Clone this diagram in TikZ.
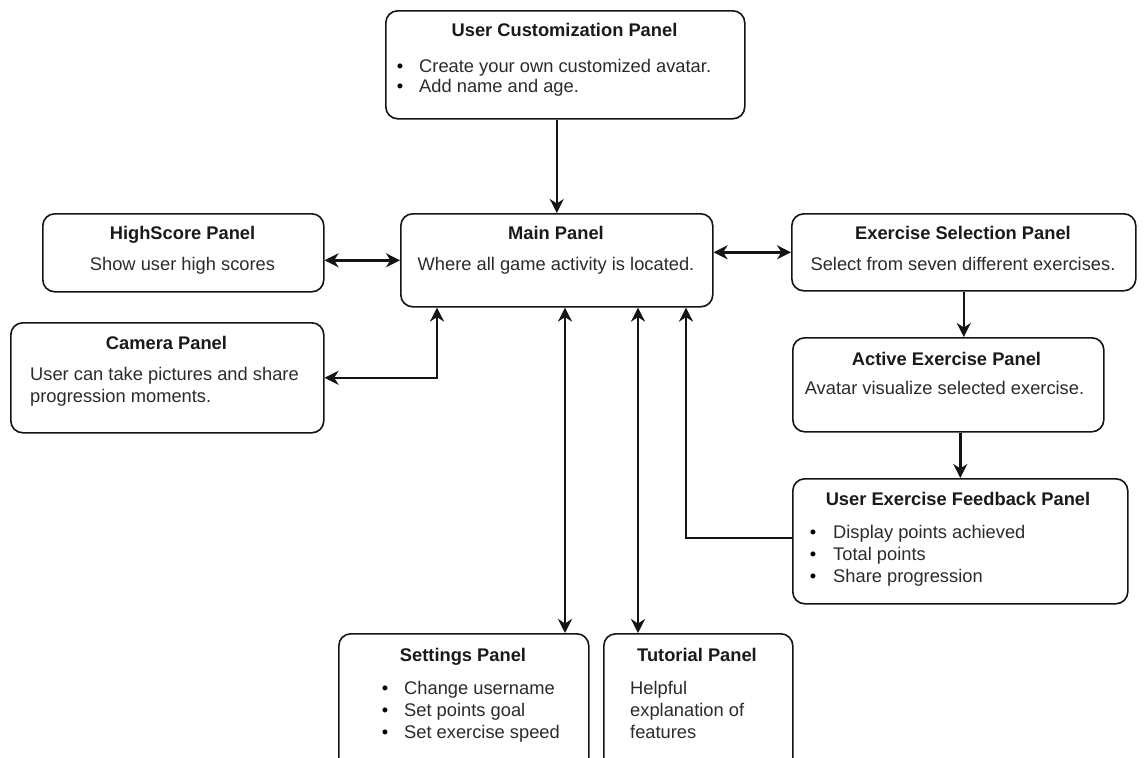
\documentclass[tikz,border=0pt]{standalone}
\usepackage{fontspec}
\setmainfont{Liberation Sans}
\usetikzlibrary{arrows.meta,calc}
\definecolor{edge}{HTML}{141414}
\definecolor{titlec}{HTML}{1A1A1A}
\definecolor{bodyc}{HTML}{2B2B2B}
\begin{document}
\begin{tikzpicture}[x=1pt,y=-1pt,
  panel/.style={draw=edge, line width=1.6pt, rounded corners=12pt, anchor=north west, inner sep=0pt, fill=white},
  head/.style={font=\bfseries\fontsize{18.3}{22}\selectfont, text=titlec, anchor=base, inner sep=0pt},
  body/.style={font=\fontsize{18.3}{22}\selectfont, text=bodyc, anchor=base west, inner sep=0pt},
  cbody/.style={body, anchor=base},
  dot/.style={font=\fontsize{18.3}{22}\selectfont, text=black, anchor=base, inner sep=0pt},
  tip/.tip={Stealth[length=14pt,width=14pt,inset=4.5pt]},
  link/.style={line width=2.5pt, draw=edge, -tip},
  both/.style={line width=2.5pt, draw=edge, tip-tip}
]
\useasboundingbox (0,0) rectangle (1144,758);
\clip (0,0) rectangle (1144,758);
\fill[white] (0,0) rectangle (1144,758);

% panels
\node[panel, minimum width=359pt, minimum height=108pt] (uc)   at (385,10)  {};
\node[panel, minimum width=312pt, minimum height=93pt]  (main) at (400,213) {};
\node[panel, minimum width=281pt, minimum height=78pt]  (hs)   at (42,213)  {};
\node[panel, minimum width=313pt, minimum height=110pt] (cam)  at (10,322)  {};
\node[panel, minimum width=344pt, minimum height=77pt]  (es)   at (791,213) {};
\node[panel, minimum width=311pt, minimum height=94pt]  (ae)   at (792,337) {};
\node[panel, minimum width=335pt, minimum height=125pt] (uef)  at (792,478) {};
\node[panel, minimum width=250pt, minimum height=157pt] (set)  at (338,633) {};
\node[panel, minimum width=189pt, minimum height=157pt] (tut)  at (603,633) {};

% user customization
\node[head] (ucT) at (564.5,36.5) {User Customization Panel};
\node[dot] (ucD1) at (400,72) {•};
\node[body] (ucL1) at (419,72) {Create your own customized avatar.};
\node[dot] (ucD2) at (400,92.5) {•};
\node[body] (ucL2) at (419,92.5) {Add name and age.};

% main
\node[head] (mainT) at (556,239.5) {Main Panel};
\node[cbody] (mainL) at (556,270) {Where all game activity is located.};

% high score
\node[head] (hsT) at (182.5,239.5) {HighScore Panel};
\node[cbody] (hsL) at (182.5,270) {Show user high scores};

% camera
\node[head] (camT) at (166.5,349.5) {Camera Panel};
\node[body] (camL1) at (30,380) {User can take pictures and share};
\node[body] (camL2) at (30,402) {progression moments.};

% exercise selection
\node[head] (esT) at (963,239.5) {Exercise Selection Panel};
\node[cbody] (esL) at (963,270) {Select from seven different exercises.};

% active exercise
\node[head] (aeT) at (946.5,365.5) {Active Exercise Panel};
\node[cbody] (aeL) at (944.5,394) {Avatar visualize selected exercise.};

% feedback
\node[head] (uefT) at (958,505.5) {User Exercise Feedback Panel};
\node[dot] (uefD1) at (813,538) {•};
\node[body] (uefL1) at (833,538) {Display points achieved};
\node[dot] (uefD2) at (813,560) {•};
\node[body] (uefL2) at (833,560) {Total points};
\node[dot] (uefD3) at (813,582) {•};
\node[body] (uefL3) at (833,582) {Share progression};

% settings
\node[head] (setT) at (463,661.5) {Settings Panel};
\node[dot] (setD1) at (385,694) {•};
\node[body] (setL1) at (404,694) {Change username};
\node[dot] (setD2) at (385,716) {•};
\node[body] (setL2) at (404,716) {Set points goal};
\node[dot] (setD3) at (385,738) {•};
\node[body] (setL3) at (404,738) {Set exercise speed};

% tutorial
\node[head] (tutT) at (697,661.5) {Tutorial Panel};
\node[body] (tutL1) at (630,694) {Helpful};
\node[body] (tutL2) at (630,716) {explanation of};
\node[body] (tutL3) at (630,738) {features};

% connectors
\draw[link] (uc.south -| main.north) -- (main.north);
\draw[both] (main.west -| hs.east) -- (main.west);
\draw[both] (es.west -| main.east) -- (es.west);
\draw[both] (cam.east) -| ($(main.south west)+(37,0)$);
\draw[link] (es.south) -- (es.south |- ae.north);
\draw[link] (ae.south -| uef.north) -- (uef.north);
\draw[link] ($(uef.north west)+(0,60)$) -| ($(main.south west)+(286,0)$);
\draw[both] ($(main.south west)+(165,0)$) -- ($(set.north west)+(227,0)$);
\draw[both] ($(main.south west)+(238,0)$) -- ($(tut.north west)+(35,0)$);
\end{tikzpicture}
\end{document}
